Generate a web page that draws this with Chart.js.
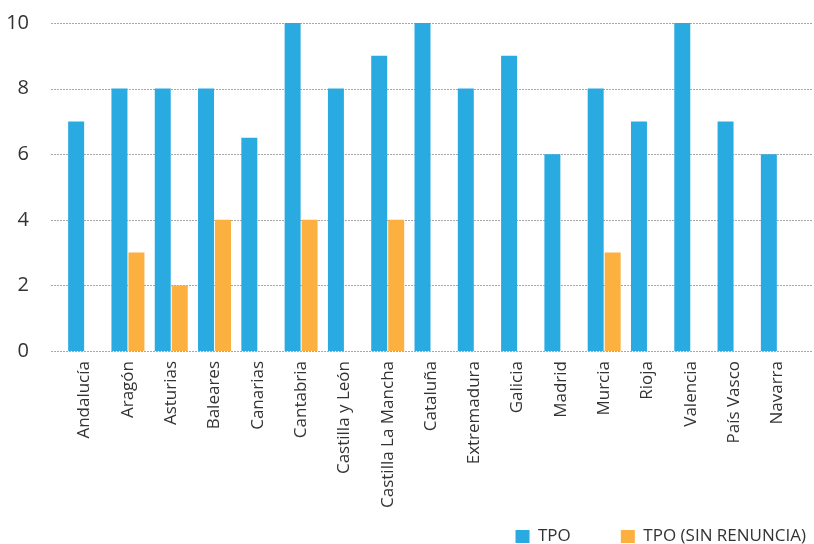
<!DOCTYPE html>
<html>
<head>
<meta charset="utf-8">
<script src="https://cdn.jsdelivr.net/npm/chart.js@4/dist/chart.umd.min.js"></script>
<style>
  html, body { margin: 0; padding: 0; background: #fff; }
  #wrap { width: 814px; height: 544px; }
</style>
</head>
<body>
<div id="wrap"><canvas id="chart" width="814" height="544"></canvas></div>
<script>
var regions = ["Andalucía", "Aragón", "Asturias", "Baleares", "Canarias", "Cantabria",
    "Castilla y León", "Castilla La Mancha", "Cataluña", "Extremadura", "Galicia",
    "Madrid", "Murcia", "Rioja", "Valencia", "País Vasco", "Navarra"];
var tpo = [7, 8, 8, 8, 6.5, 10, 8, 9, 10, 8, 9, 6, 8, 7, 10, 7, 6];
var tpoSinRenuncia = [0, 3, 2, 4, 0, 4, 0, 4, 0, 0, 0, 0, 3, 0, 0, 0, 0];
var yTicks = [0, 2, 4, 6, 8, 10];

var FONT = "'Open Sans', 'Noto Sans', sans-serif";
var TEXT = "#333333";
var LEGEND_GAP = 50;

// dotted gridlines run wider than the category area
var gridPlugin = {
    id: "wideGrid",
    beforeDatasetsDraw: (chart) => {
        var ctx = chart.ctx;
        var y = chart.scales.y;
        ctx.save();
        ctx.strokeStyle = "#a8a8a8";
        ctx.lineWidth = 1;
        ctx.setLineDash([2, 1]);
        yTicks.forEach((v) => {
            var py = Math.round(y.getPixelForValue(v)) + 0.5;
            ctx.beginPath();
            ctx.moveTo(51, py);
            ctx.lineTo(812, py);
            ctx.stroke();
        });
        ctx.restore();
    }
};

// legend sits in the bottom-right corner, items spread wide apart
var legendPlace = {
    id: "legendPlace",
    afterLayout: (chart) => {
        var lg = chart.legend;
        if (!lg) return;
        lg.right = 814 + LEGEND_GAP - 8;
        lg.width = lg.right - lg.left;
        lg.top = 528 - LEGEND_GAP;
        lg.bottom = 544;
        lg.height = lg.bottom - lg.top;
    }
};

new Chart(document.getElementById("chart"), {
    type: "bar",
    data: {
        labels: regions,
        datasets: [
            {
                label: "TPO",
                data: tpo,
                backgroundColor: "#29aae1",
                categoryPercentage: 0.785,
                barPercentage: 0.94
            },
            {
                label: "TPO (SIN RENUNCIA)",
                data: tpoSinRenuncia,
                backgroundColor: "#fbb040",
                categoryPercentage: 0.785,
                barPercentage: 0.94
            }
        ]
    },
    plugins: [gridPlugin, legendPlace],
    options: {
        animation: false,
        responsive: false,
        layout: { padding: { left: 0, right: 15, top: 23, bottom: 0 } },
        plugins: {
            legend: {
                display: true,
                position: "bottom",
                align: "end",
                maxHeight: 30,
                labels: {
                    boxWidth: 14,
                    boxHeight: 13,
                    padding: LEGEND_GAP,
                    color: TEXT,
                    font: { family: FONT, size: 17 }
                }
            },
            tooltip: { enabled: false }
        },
        scales: {
            x: {
                grid: { display: false, drawTicks: false },
                border: { display: false },
                ticks: {
                    color: TEXT,
                    font: { family: FONT, size: 17 },
                    minRotation: 90,
                    maxRotation: 90,
                    autoSkip: false,
                    padding: 10
                },
                afterFit: (scale) => {
                    scale.height = 163;
                    scale.paddingLeft = 0;
                    scale.paddingRight = 0;
                    scale.paddingTop = 0;
                    scale.paddingBottom = 0;
                }
            },
            y: {
                min: 0,
                max: 10,
                grid: { display: false, drawTicks: false },
                border: { display: false },
                afterBuildTicks: (scale) => {
                    scale.ticks = yTicks.map((v) => ({ value: v }));
                },
                ticks: {
                    color: TEXT,
                    font: { family: FONT, size: 20 },
                    padding: 34
                },
                afterFit: (scale) => {
                    scale.width = 63;
                    scale.paddingTop = 0;
                    scale.paddingBottom = 0;
                }
            }
        }
    }
});
</script>
</body>
</html>
